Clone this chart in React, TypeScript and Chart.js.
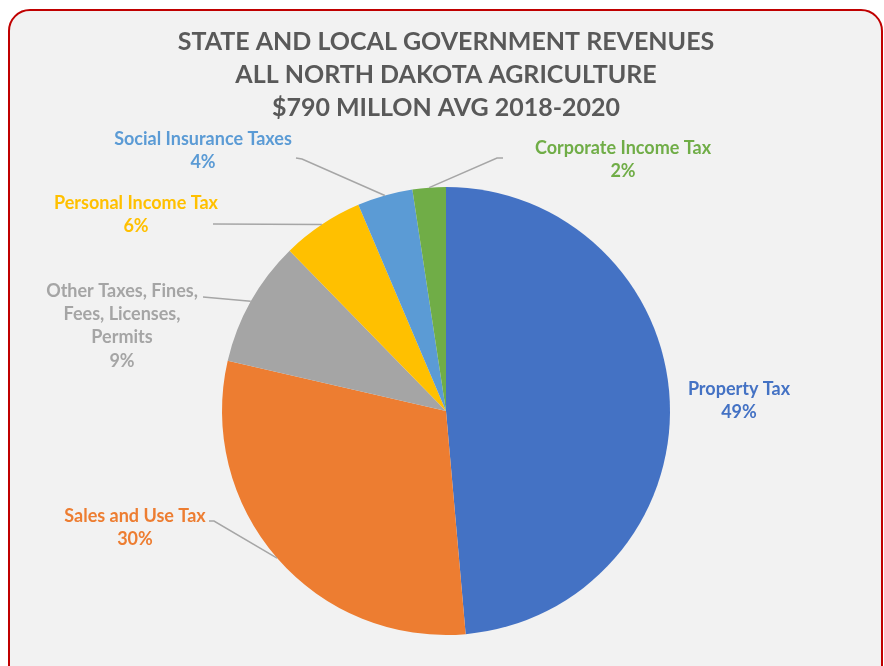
import React, { useEffect, useRef } from 'react';
import { Chart, ArcElement, PieController, Title } from 'chart.js';

Chart.register(ArcElement, PieController, Title);

const titleLines = [
  'STATE AND LOCAL GOVERNMENT REVENUES',
  'ALL NORTH DAKOTA AGRICULTURE',
  '$790 MILLON AVG 2018-2020',
];

const categories = [
  'Property Tax',
  'Sales and Use Tax',
  'Other Taxes, Fines, Fees, Licenses, Permits',
  'Personal Income Tax',
  'Social Insurance Taxes',
  'Corporate Income Tax',
];

const categoryLabelLines = [
  ['Property Tax'],
  ['Sales and Use Tax'],
  ['Other Taxes, Fines,', 'Fees, Licenses,', 'Permits'],
  ['Personal Income Tax'],
  ['Social Insurance Taxes'],
  ['Corporate Income Tax'],
];

const shares = [48.6, 30.0, 9.1, 5.9, 4.0, 2.4];

const colors = ['#4472C4', '#ED7D31', '#A5A5A5', '#FFC000', '#5B9BD5', '#70AD47'];

// label placement relative to pie centre (text = first line centre; from/elbow = leader line points)
const labelLayout: { text: [number, number]; from?: [number, number]; elbow?: [number, number] }[] = [
  { text: [293, -22] },
  { text: [-311, 105], from: [-237, 110], elbow: [-232, 110] },
  { text: [-324, -120], from: [-243, -114] },
  { text: [-310, -208], from: [-233, -187] },
  { text: [-243, -272], from: [-150, -253], elbow: [-144, -252] },
  { text: [177, -263], from: [57, -253], elbow: [51, -253] },
];

const FONT = 'Lato, "Noto Sans", sans-serif';

const labelPlugin = {
  id: 'outerLabels',
  afterDatasetsDraw(chart: any) {
    const ctx = chart.ctx as CanvasRenderingContext2D;
    const meta = chart.getDatasetMeta(0);
    const data = chart.data.datasets[0].data as number[];
    const total = data.reduce((a, b) => a + b, 0);
    meta.data.forEach((arc: any, i: number) => {
      const { x, y, startAngle, endAngle, outerRadius } = arc.getProps(
        ['x', 'y', 'startAngle', 'endAngle', 'outerRadius'],
        true
      );
      const mid = (startAngle + endAngle) / 2;
      const ex = x + Math.cos(mid) * outerRadius;
      const ey = y + Math.sin(mid) * outerRadius;
      const lay = labelLayout[i];
      ctx.save();
      if (lay.from) {
        ctx.strokeStyle = '#A6A6A6';
        ctx.lineWidth = 1.5;
        ctx.beginPath();
        ctx.moveTo(x + lay.from[0], y + lay.from[1]);
        if (lay.elbow) ctx.lineTo(x + lay.elbow[0], y + lay.elbow[1]);
        ctx.lineTo(ex, ey);
        ctx.stroke();
      }
      const lines = [...categoryLabelLines[i], Math.round((data[i] / total) * 100) + '%'];
      ctx.fillStyle = colors[i];
      ctx.font = 'bold 18px ' + FONT;
      ctx.textAlign = 'center';
      ctx.textBaseline = 'middle';
      lines.forEach((t, k) => {
        ctx.fillText(t, x + lay.text[0], y + lay.text[1] + k * 23.3);
      });
      ctx.restore();
    });
  },
};

export default function App() {
  const ref = useRef<HTMLCanvasElement | null>(null);
  useEffect(() => {
    if (!ref.current) return;
    const chart = new Chart(ref.current, {
      type: 'pie',
      data: {
        labels: categories,
        datasets: [
          {
            data: shares,
            backgroundColor: colors,
            borderWidth: 0,
          },
        ],
      },
      options: {
        animation: false,
        responsive: false,
        events: [],
        layout: { padding: { top: 0, bottom: 31, left: 8, right: 0 } },
        plugins: {
          legend: { display: false },
          tooltip: { enabled: false },
          title: {
            display: true,
            text: titleLines,
            color: '#595959',
            font: { family: FONT, size: 25, weight: 'bold', lineHeight: 1.32 },
            padding: { top: 25, bottom: 63 },
          },
        },
      },
      plugins: [labelPlugin],
    });
    return () => chart.destroy();
  }, []);
  return (
    <div style={{ position: 'fixed', left: 0, top: 0, width: 884, height: 666, overflow: 'hidden' }}>
      <div
        style={{
          position: 'absolute',
          left: 8,
          top: 9,
          width: 875,
          height: 690,
          boxSizing: 'border-box',
          border: '2px solid #C00000',
          borderRadius: 22,
          background: '#F2F2F2',
        }}
      />
      <canvas ref={ref} width={884} height={666} style={{ position: 'absolute', left: 0, top: 0, width: 884, height: 666 }} />
    </div>
  );
}
